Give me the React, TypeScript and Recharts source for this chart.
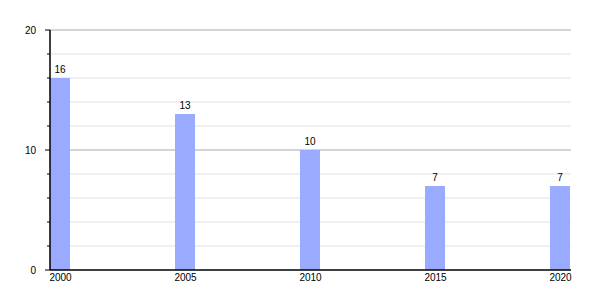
import React from 'react';
import { BarChart, Bar, XAxis, YAxis, CartesianGrid, LabelList } from 'recharts';

const years = [2000, 2005, 2010, 2015, 2020];
const values = [16, 13, 10, 7, 7];
const yTicks = [0, 2, 4, 6, 8, 10, 12, 14, 16, 18, 20];
const majorTicks = [0, 10, 20];
const minorGrid = [2, 4, 6, 8, 12, 14, 16, 18];
const majorGrid = [10, 20];

const data = years.map((year, i) => ({ year, value: values[i] }));

const FONT = 'Arial, "Liberation Sans", sans-serif';

const YTick = (props: any) => {
  const { x, y, payload } = props;
  const isMajor = majorTicks.includes(payload.value);
  const len = isMajor ? 5 : 3;
  return (
    <g>
      <line x1={x - len} x2={x} y1={y} y2={y} stroke="#000" strokeWidth={1} />
      {isMajor && (
        <text x={x - 14} y={y} dy={4} textAnchor="end" fontSize={10} fontFamily={FONT} fill="#000">
          {payload.value}
        </text>
      )}
    </g>
  );
};

export default function App() {
  return (
    <div style={{ position: 'absolute', left: 0, top: 0, width: 600, height: 300, background: '#fff' }}>
      <BarChart
        width={600}
        height={300}
        data={data}
        margin={{ top: 30, right: 29, left: 0, bottom: 0 }}
      >
        <CartesianGrid vertical={false} horizontalValues={minorGrid} stroke="#e0e0e0" />
        <CartesianGrid vertical={false} horizontalValues={majorGrid} stroke="#aaaaaa" />
        <XAxis
          dataKey="year"
          type="number"
          domain={[1999.58, 2020.42]}
          ticks={years}
          allowDataOverflow
          height={30}
          tickLine={false}
          tickSize={0}
          tickMargin={4}
          axisLine={{ stroke: '#000', strokeWidth: 1.5 }}
          tick={{ fontSize: 10, fontFamily: FONT, fill: '#000' }}
        />
        <YAxis
          width={50}
          domain={[0, 20]}
          ticks={yTicks}
          interval={0}
          tickLine={false}
          tickSize={0}
          tickMargin={0}
          axisLine={{ stroke: '#000', strokeWidth: 1.5 }}
          tick={<YTick />}
        />
        <Bar dataKey="value" fill="#99aaff" barSize={20} isAnimationActive={false}>
          <LabelList dataKey="value" position="top" offset={5} fontSize={10} fontFamily={FONT} fill="#000" />
        </Bar>
      </BarChart>
    </div>
  );
}
